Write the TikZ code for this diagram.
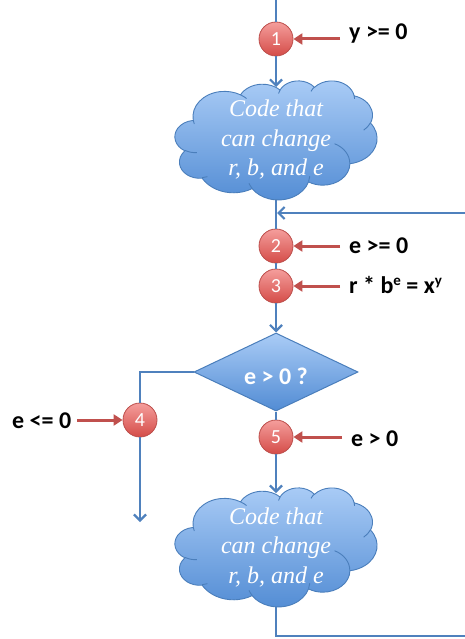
\documentclass[tikz,border=0pt]{standalone}
\usepackage{fontspec}
\setmainfont{Liberation Serif}
\newfontfamily\labelfont{Carlito}
\usetikzlibrary{arrows.meta,shapes.geometric}

\definecolor{flowblue}{RGB}{79,129,189}
\definecolor{cloudtop}{RGB}{170,204,246}
\definecolor{cloudbot}{RGB}{82,140,212}
\definecolor{cloudedge}{RGB}{74,126,187}
\definecolor{dotTop}{RGB}{245,158,156}
\definecolor{dotBot}{RGB}{212,76,72}
\definecolor{dotEdge}{RGB}{188,78,75}
\definecolor{noteRed}{RGB}{192,80,77}

% elliptical arc given by radii, start angle and sweep measured as ray angles
\newcommand\cloudarc[4]{%
  \pgfextra{%
    \pgfmathparse{atan2(#1*sin(#3),#2*cos(#3))}\xdef\cloudTa{\pgfmathresult}%
    \pgfmathparse{atan2(#1*sin(#3+#4),#2*cos(#3+#4))}\xdef\cloudTb{\pgfmathresult}%
    \pgfmathparse{mod(\cloudTb-\cloudTa+720,360)}\xdef\cloudTd{\pgfmathresult}%
  }
  arc[x radius=#1, y radius=#2, start angle=\cloudTa, delta angle=\cloudTd]}

% cloud outline in a 432 x 432 frame, y pointing down
\newcommand\cloudoutline{%
  (39.00,143.70)
  \cloudarc{67.53}{91.90}{-190.4875}{123.7805}
  \cloudarc{53.33}{72.67}{-144.1024}{89.9452}
  \cloudarc{43.65}{59.45}{-145.8079}{99.7230}
  \cloudarc{48.57}{65.95}{-130.9861}{117.2417}
  \cloudarc{53.33}{72.73}{-78.7089}{109.0269}
  \cloudarc{67.75}{92.20}{-46.2673}{130.2690}
  \cloudarc{57.85}{78.67}{0.6250}{114.0333}
  \cloudarc{67.52}{92.15}{22.4516}{115.1726}
  \cloudarc{77.20}{105.43}{66.2426}{75.7110}
  \cloudarc{43.60}{59.18}{-274.9421}{146.7356}
  \cloudarc{43.45}{59.45}{-246.8285}{152.5189}
  -- cycle}

% short inner arcs where the puffs overlap
\newcommand\cloudcreases{%
  (46.93,261.77) \cloudarc{43.45}{59.45}{86.7420}{26.4295}
  (69.28,348.99) \cloudarc{43.60}{59.18}{73.6105}{11.4475}
  (164.78,390.90) \cloudarc{67.52}{92.15}{137.6242}{14.0811}
  (288.27,347.51) \cloudarc{67.52}{92.15}{6.4533}{15.9984}
  (341.29,229.54) \cloudarc{57.85}{78.67}{-70.2924}{70.9174}
  (417.98,153.54) \cloudarc{53.33}{72.73}{30.3180}{27.7515}
  (383.24,54.26) \cloudarc{48.57}{65.95}{-13.7443}{14.8589}
  (290.78,39.52) \cloudarc{48.57}{65.95}{-149.1815}{18.1954}
  (221.41,47.20) \cloudarc{43.65}{59.45}{-163.4943}{17.6864}
  (140.00,51.92) \cloudarc{67.53}{91.90}{-66.7070}{12.3194}
  (41.27,157.89) \cloudarc{67.53}{91.90}{157.6544}{11.8582}}

% #1 = top left corner of the cloud's 202 x 119 frame
\newcommand\drawcloud[1]{%
  \begin{scope}[shift={#1}, x=0.46759pt, y=-0.27546pt]
    \path[cloudbody] \cloudoutline;
    \path[crease] \cloudcreases;
  \end{scope}}

\newcommand\sups[1]{\raisebox{0.62ex}{\fontsize{15}{15}\selectfont #1}}

\begin{document}
\begin{tikzpicture}[x=1pt, y=-1pt,
  flow/.style={draw=flowblue, line width=2.2pt},
  flowarrow/.style={flow, -{Straight Barb[length=6pt,width=12pt]}},
  note/.style={draw=noteRed, line width=3pt, -{Triangle[length=9pt,width=11pt]}},
  dot/.style={circle, minimum size=34pt, inner sep=0pt, top color=dotTop,
    bottom color=dotBot, draw=dotEdge, line width=0.8pt, text=white,
    font=\labelfont\fontsize{20}{20}\selectfont},
  lab/.style={font=\labelfont\bfseries\fontsize{24}{28}\selectfont,
    inner sep=0pt, text=black},
  decision/.style={diamond, aspect=2.1, minimum width=164pt, minimum height=78pt,
    inner sep=0pt, top color=cloudtop, bottom color=cloudbot, draw=cloudedge,
    line width=1pt, text=white, text height=24pt, text depth=0pt,
    font=\labelfont\bfseries\fontsize{24}{28}\selectfont},
  cloudtext/.style={text=white, align=center, inner sep=0pt,
    font=\fontsize{24}{29.5}\selectfont\itshape},
  cloudbody/.style={top color=cloudtop, bottom color=cloudbot, draw=cloudedge,
    line width=0.9pt},
  crease/.style={draw=cloudedge, line width=0.9pt}]
\useasboundingbox (0,0) rectangle (464,639);

% the two code clouds
\drawcloud{(175,80.5)}
\node[cloudtext] (cl1) at (276,140) {Code that\\can change\\r, b, and e};
\drawcloud{(175,487.5)}
\node[cloudtext] (cl2) at (276,547.5) {Code that\\can change\\r, b, and e};

% points where the flow meets the clouds and leaves the picture
\coordinate (entry) at (276,-2);
\coordinate (cl1top) at (276,87);
\coordinate (cl1bot) at (276,199);
\coordinate (cl2top) at (276,493);
\coordinate (cl2bot) at (276,607);
\coordinate (corner) at (276,636);
\coordinate (exitB) at (468,636);
\coordinate (backin) at (468,213);
\coordinate (join) at (277,213);
\coordinate (leftend) at (140,522);

% checkpoints and decision
\node[decision] (dec) at (276,372) {e > 0 ?};
\node[dot] (c1) at (276,39) {1};
\node[dot] (c2) at (276,246) {2};
\node[dot] (c3) at (276,286) {3};
\node[dot] (c4) at (140,420) {4};
\node[dot] (c5) at (276,437) {5};

% flow lines
\draw[flow] (entry) -- (c1);
\draw[flowarrow] (c1) -- (cl1top);
\draw[flow] (cl1bot) -- (c2);
\draw[flow] (c2) -- (c3);
\draw[flowarrow] (c3) -- (dec);
\draw[flow] (dec) -- (c5);
\draw[flowarrow] (c5) -- (cl2top);
\draw[flow] (cl2bot) -- (corner) -- (exitB);
\draw[flowarrow] (backin) -- (join);
\draw[flow] (dec.west) -| (c4);
\draw[flowarrow] (c4) -- (leftend);

% assertions
\node[lab, anchor=base west] (l1) at (349,40) {y >= 0};
\node[lab, anchor=base west] (l2) at (349,253) {e >= 0};
\node[lab, anchor=base west] (l3) at (349,293) {r * b\sups{e} = x\sups{y}};
\node[lab, anchor=base west] (l4) at (12,428) {e <= 0};
\node[lab, anchor=base west] (l5) at (351,446) {e > 0};

\draw[note] ([xshift=-9pt]l1.west |- c1.east) -- (c1.east);
\draw[note] ([xshift=-9pt]l2.west |- c2.east) -- (c2.east);
\draw[note] ([xshift=-9pt]l3.west |- c3.east) -- (c3.east);
\draw[note] ([xshift=-9pt]l5.west |- c5.east) -- (c5.east);
\draw[note] ([xshift=6pt]l4.east |- c4.west) -- (c4.west);
\end{tikzpicture}
\end{document}
